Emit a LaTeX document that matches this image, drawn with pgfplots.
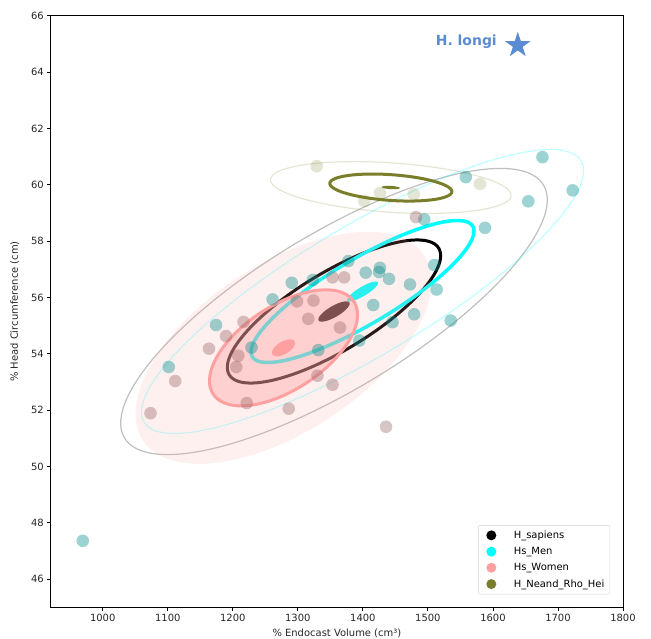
\documentclass[border=0pt]{standalone}
\usepackage{fontspec}
\setmainfont{DejaVu Sans}
\usepackage{pgfplots}
\pgfplotsset{compat=1.18}
\definecolor{menpt}{RGB}{0,139,139}
\definecolor{wompt}{RGB}{150,100,100}
\definecolor{olv}{RGB}{122,125,42}
\definecolor{pinkc}{RGB}{255,160,160}
\definecolor{aqua}{RGB}{0,255,255}
\definecolor{longi}{RGB}{91,139,208}
\definecolor{legframe}{RGB}{210,210,210}
\pgfdeclareplotmark{fstar}{%
  \pgfpathmoveto{\pgfpoint{0pt}{\pgfplotmarksize}}%
  \pgfpathlineto{\pgfpoint{-0.2245\pgfplotmarksize}{0.309\pgfplotmarksize}}%
  \pgfpathlineto{\pgfpoint{-0.951\pgfplotmarksize}{0.309\pgfplotmarksize}}%
  \pgfpathlineto{\pgfpoint{-0.363\pgfplotmarksize}{-0.118\pgfplotmarksize}}%
  \pgfpathlineto{\pgfpoint{-0.588\pgfplotmarksize}{-0.809\pgfplotmarksize}}%
  \pgfpathlineto{\pgfpoint{0pt}{-0.382\pgfplotmarksize}}%
  \pgfpathlineto{\pgfpoint{0.588\pgfplotmarksize}{-0.809\pgfplotmarksize}}%
  \pgfpathlineto{\pgfpoint{0.363\pgfplotmarksize}{-0.118\pgfplotmarksize}}%
  \pgfpathlineto{\pgfpoint{0.951\pgfplotmarksize}{0.309\pgfplotmarksize}}%
  \pgfpathlineto{\pgfpoint{0.2245\pgfplotmarksize}{0.309\pgfplotmarksize}}%
  \pgfpathclose\pgfusepathqfill}
\pgfdeclareplotmark{fdot}{%
  \pgfpathcircle{\pgfpointorigin}{\pgfplotmarksize}\pgfusepathqfill}
% confidence ellipse: centre (#1,#2), half extents #3 (x) #4 (y), shape factors #5 #6, style #7
\newcommand{\confell}[7]{%
  \addplot[#7, forget plot, domain=0:360, samples=121, variable=\t]
    ({#1+#3*(#5*cos(\t)-#6*sin(\t))},{#2+#4*(#5*cos(\t)+#6*sin(\t))});}
\begin{document}
\begin{tikzpicture}
\useasboundingbox (-50.7bp,-31.7bp) rectangle (600.3bp,607.3bp);
\begin{axis}[
  scale only axis, width=572.3bp, height=591.6bp,
  xmin=920, xmax=1800, ymin=45, ymax=66,
  xtick={1000,1100,...,1800}, ytick={46,48,...,66},
  /pgf/number format/1000 sep={},
  /pgf/number format/assume math mode=true,
  tick label style={font=\fontsize{10}{12}\selectfont, text=black!85},
  label style={font=\fontsize{10}{12}\selectfont, text=black!85},
  xlabel={\% Endocast Volume (cm³)},
  ylabel={\% Head Circumference (cm)},
  ylabel shift=5bp,
  tick align=outside, xtick pos=bottom, ytick pos=left,
  major tick length=3.5bp,
  every tick/.style={black, line width=0.8bp},
  axis line style={black, line width=0.8bp},
  legend cell align=left,
  legend image code/.code={\path[draw=none, fill=none] (0,0) rectangle (30bp,0.1bp); \fill[#1, draw=none] (9.5bp,0) circle (5bp);},
  legend style={at={(1,0)}, anchor=south east, xshift=-13bp, yshift=13bp,
    draw=legframe, rounded corners=2bp, font=\fontsize{10}{12}\selectfont,
    row sep=3.4bp, inner sep=3.5bp},
]
% scatter points
\addplot[only marks, mark=fdot, mark size=6.3bp, forget plot,
  mark options={fill=menpt, fill opacity=0.38}] coordinates {
(969.3,47.36) (1101.5,53.53) (1174.2,55.02) (1261.1,55.93) (1290.6,56.52)
(1323.0,56.62) (1377.6,57.29) (1404.4,56.88) (1426.3,57.05) (1424.8,56.90)
(1440.2,56.66) (1472.5,56.46) (1509.8,57.15) (1513.5,56.28) (1416.0,55.73)
(1478.9,55.40) (1445.6,55.12) (1535.1,55.18) (1394.5,54.47) (1331.5,54.13)
(1228.8,54.22) (1494.5,58.77) (1587.8,58.47) (1558.3,60.27) (1676.2,60.98)
(1722.6,59.80) (1654.4,59.41)};
\addplot[only marks, mark=fdot, mark size=6.3bp, forget plot,
  mark options={fill=wompt, fill opacity=0.38}] coordinates {
(1353.3,56.71) (1371.3,56.71) (1298.7,55.86) (1324.1,55.89) (1316.1,55.24)
(1364.8,54.93) (1216.5,55.13) (1189.6,54.63) (1163.4,54.18) (1208.5,53.93)
(1205.4,53.53) (1111.5,53.03) (1073.5,51.89) (1221.4,52.25) (1286.0,52.05)
(1330.3,53.22) (1353.3,52.90) (1435.6,51.41) (1481.7,58.85)};
\addplot[only marks, mark=fdot, mark size=6.3bp, forget plot,
  mark options={fill=olv, fill opacity=0.2}] coordinates {
(1329.0,60.66) (1402.2,59.42) (1426.3,59.71) (1478.3,59.66) (1580.1,60.03)};
% H_sapiens
\confell{1355.6}{55.50}{24}{0.36}{0.9434}{0.3317}{draw=none, fill=black}
\confell{1355.6}{55.50}{164}{2.54}{0.9434}{0.3317}{black, line width=3bp}
\confell{1355.6}{55.50}{328}{5.08}{0.9434}{0.3317}{black, draw opacity=0.25, line width=1.2bp}
% Hs_Men
\confell{1399.5}{56.21}{23.8}{0.355}{0.9618}{0.2739}{draw=none, fill=aqua}
\confell{1399.5}{56.21}{171.4}{2.52}{0.9618}{0.2739}{aqua, line width=3.5bp}
\confell{1399.5}{56.21}{340}{5.04}{0.9618}{0.2739}{aqua, draw opacity=0.25, line width=1.2bp}
% Hs_Women
\confell{1278}{54.21}{227.6}{4.12}{0.8860}{0.4637}{draw=none, fill=pinkc, fill opacity=0.16}
\confell{1278}{54.21}{113.8}{2.06}{0.8860}{0.4637}{draw=pinkc, line width=3bp, fill=pinkc, fill opacity=0.4}
\confell{1278}{54.21}{17.7}{0.30}{0.8860}{0.4637}{draw=none, fill=pinkc}
% H_Neand_Rho_Hei
\confell{1443}{59.90}{13.8}{0.06}{0.5916}{0.8062}{draw=none, fill=olv}
\confell{1443}{59.90}{93.8}{0.48}{0.5916}{0.8062}{olv, line width=3bp}
\confell{1443}{59.90}{185}{0.92}{0.5916}{0.8062}{olv, draw opacity=0.2, line width=1.2bp}
% H. longi
\addplot[only marks, mark=fstar, mark size=13.5bp, forget plot,
  mark options={fill=longi}] coordinates {(1638.2,64.95)};
\node[anchor=base east, text=longi, font=\bfseries\fontsize{14}{16}\selectfont, inner sep=0pt]
  at (axis cs:1606.2,64.94) {H. longi};
% legend
\addlegendimage{black}
\addlegendentry{H\_sapiens}
\addlegendimage{aqua}
\addlegendentry{Hs\_Men}
\addlegendimage{pinkc}
\addlegendentry{Hs\_Women}
\addlegendimage{olv}
\addlegendentry{H\_Neand\_Rho\_Hei}
\end{axis}
\end{tikzpicture}
\end{document}
